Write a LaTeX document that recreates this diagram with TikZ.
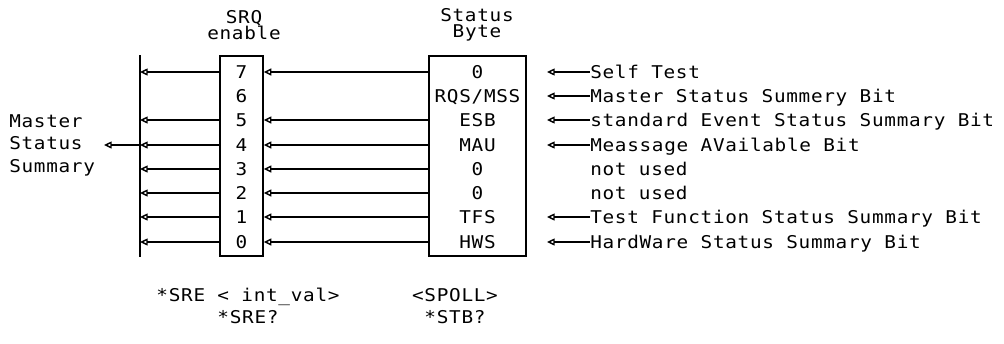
\documentclass[tikz,border=0pt]{standalone}
\usepackage{fontspec}
\usepackage{tikz}
\usetikzlibrary{arrows.meta,positioning,calc}
\newfontfamily\plotfont[FakeStretch=1.1,LetterSpace=4]{DejaVu Sans Mono}

\begin{document}
\begin{tikzpicture}[
    x=0.025cm, y=-0.025cm,
    every node/.style={font=\plotfont\fontsize{12.5}{14}\selectfont, inner sep=0pt},
    regbox/.style={rectangle, draw=black, line width=1pt, minimum height=5cm},
    bitlabel/.style={text height=9.1pt, text depth=0pt},
    desc/.style={anchor=west, text height=9.1pt, text depth=0pt},
    arrow/.style={-{Triangle[open,length=5.5pt,width=5pt]}, line width=1pt},
    busline/.style={line width=1pt}
]
\useasboundingbox (0,0) rectangle (1004,343);

% Registers
\node[regbox, minimum width=1.075cm] (srq) at (241.5,156) {};
\node[regbox, minimum width=2.425cm] (sb) at (477.5,156) {};
\node[align=center, font=\plotfont\fontsize{12.5}{11.4}\selectfont] (srqhead) at (244,25) {SRQ\\enable};
\node[align=center, font=\plotfont\fontsize{12.5}{11.4}\selectfont] (sbhead) at (477,25) {Status\\Byte};

% SRQ enable bits
\node[bitlabel] (s7) at (241.5,72) {7};
\node[bitlabel] (s6) at (241.5,96) {6};
\node[bitlabel] (s5) at (241.5,120) {5};
\node[bitlabel] (s4) at (241.5,145) {4};
\node[bitlabel] (s3) at (241.5,169) {3};
\node[bitlabel] (s2) at (241.5,193) {2};
\node[bitlabel] (s1) at (241.5,217) {1};
\node[bitlabel] (s0) at (241.5,242) {0};

% Status Byte bits
\node[bitlabel] (b7) at (477.5,72) {0};
\node[bitlabel] (b6) at (477.5,96) {RQS/MSS};
\node[bitlabel] (b5) at (477.5,120) {ESB};
\node[bitlabel] (b4) at (477.5,145) {MAU};
\node[bitlabel] (b3) at (477.5,169) {0};
\node[bitlabel] (b2) at (477.5,193) {0};
\node[bitlabel] (b1) at (477.5,217) {TFS};
\node[bitlabel] (b0) at (477.5,242) {HWS};

% Descriptions
\node[desc] (d7) at (590,72) {Self Test};
\node[desc] (d6) at (590,96) {Master Status Summery Bit};
\node[desc] (d5) at (590,120) {standard Event Status Summary Bit};
\node[desc] (d4) at (590,145) {Meassage AVailable Bit};
\node[desc] (d3) at (590,169) {not used};
\node[desc] (d2) at (590,193) {not used};
\node[desc] (d1) at (590,217) {Test Function Status Summary Bit};
\node[desc] (d0) at (590,242) {HardWare Status Summary Bit};
\coordinate (tipcol) at (547,0);

% Summary bus
\coordinate (bustop) at (140,55);
\coordinate (busbot) at (140,257);
\draw[busline] (bustop) -- (busbot);
\node[align=left, anchor=west, font=\plotfont\fontsize{12.5}{16}\selectfont] (mss) at (9,145) {Master\\Status\\Summary};
\coordinate (msstip) at (104,145);
\draw[arrow] (s4 -| bustop) -- (msstip);

% Status Byte -> SRQ enable -> bus
\draw[arrow] (b7 -| sb.west) -- (b7 -| srq.east);
\draw[arrow] (b5 -| sb.west) -- (b5 -| srq.east);
\draw[arrow] (b4 -| sb.west) -- (b4 -| srq.east);
\draw[arrow] (b3 -| sb.west) -- (b3 -| srq.east);
\draw[arrow] (b2 -| sb.west) -- (b2 -| srq.east);
\draw[arrow] (b1 -| sb.west) -- (b1 -| srq.east);
\draw[arrow] (b0 -| sb.west) -- (b0 -| srq.east);

\draw[arrow] (s7 -| srq.west) -- (s7 -| bustop);
\draw[arrow] (s5 -| srq.west) -- (s5 -| bustop);
\draw[arrow] (s4 -| srq.west) -- (s4 -| bustop);
\draw[arrow] (s3 -| srq.west) -- (s3 -| bustop);
\draw[arrow] (s2 -| srq.west) -- (s2 -| bustop);
\draw[arrow] (s1 -| srq.west) -- (s1 -| bustop);
\draw[arrow] (s0 -| srq.west) -- (s0 -| bustop);

% Sources
\draw[arrow] (d7.west) -- (d7 -| tipcol);
\draw[arrow] (d6.west) -- (d6 -| tipcol);
\draw[arrow] (d5.west) -- (d5 -| tipcol);
\draw[arrow] (d4.west) -- (d4 -| tipcol);
\draw[arrow] (d1.west) -- (d1 -| tipcol);
\draw[arrow] (d0.west) -- (d0 -| tipcol);

% Commands
\node[align=center, font=\plotfont\fontsize{12.5}{15.6}\selectfont] (srecmd) at (248,306) {*SRE < int\_val>\\*SRE?};
\node[align=center, font=\plotfont\fontsize{12.5}{15.6}\selectfont] (stbcmd) at (455,306) {<SPOLL>\\*STB?};

\end{tikzpicture}
\end{document}
